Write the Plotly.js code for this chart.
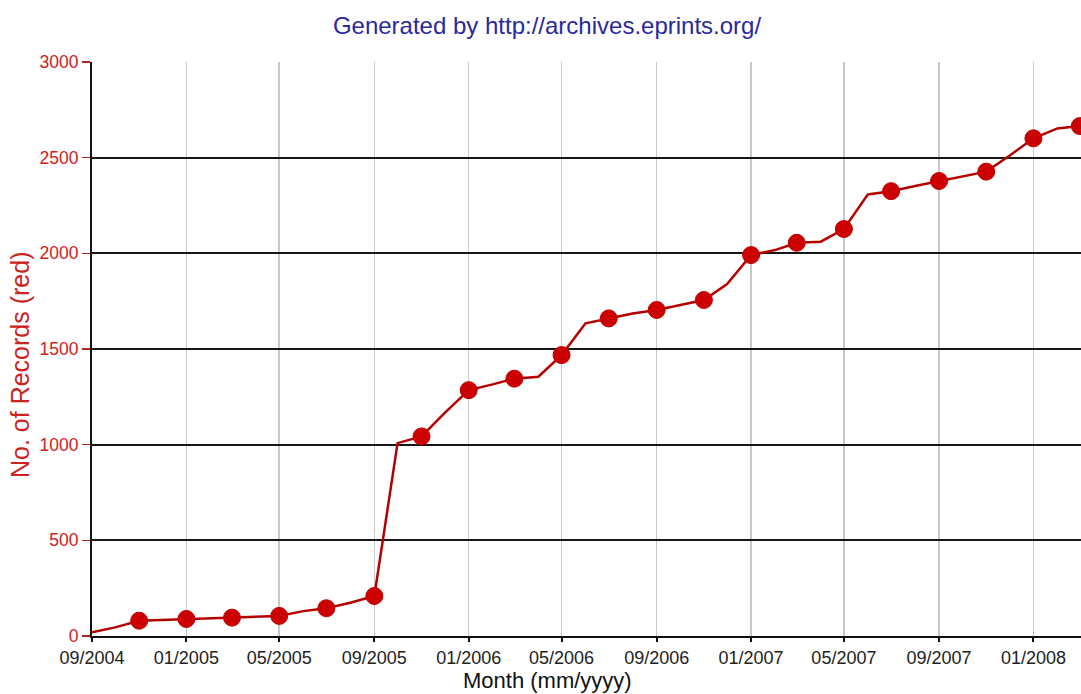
<!DOCTYPE html>
<html>
<head>
<meta charset="utf-8">
<script src="https://cdn.plot.ly/plotly-3.0.1.min.js"></script>
<style>
  html, body { margin: 0; padding: 0; background: #ffffff; }
  #chart { width: 1081px; height: 694px; }
</style>
</head>
<body>
<div id="chart"></div>
<script>
// Monthly cumulative record counts (first of each month)
const months = [
  '2004-09-01','2004-10-01','2004-11-01','2004-12-01',
  '2005-01-01','2005-02-01','2005-03-01','2005-04-01','2005-05-01','2005-06-01',
  '2005-07-01','2005-08-01','2005-09-01','2005-10-01','2005-11-01','2005-12-01',
  '2006-01-01','2006-02-01','2006-03-01','2006-04-01','2006-05-01','2006-06-01',
  '2006-07-01','2006-08-01','2006-09-01','2006-10-01','2006-11-01','2006-12-01',
  '2007-01-01','2007-02-01','2007-03-01','2007-04-01','2007-05-01','2007-06-01',
  '2007-07-01','2007-08-01','2007-09-01','2007-10-01','2007-11-01','2007-12-01',
  '2008-01-01','2008-02-01','2008-03-01'
];
const records = [
  20, 45, 80, 84,
  89, 92, 96, 100, 105, 130,
  145, 174, 209, 1008, 1043, 1166,
  1285, 1315, 1345, 1355, 1468, 1634,
  1660, 1686, 1704, 1730, 1756, 1840,
  1991, 2017, 2055, 2061, 2127, 2308,
  2325, 2352, 2378, 2400, 2427, 2510,
  2601, 2653, 2665
];
// Tick positions and labels
const xTickVals = ['2004-09-01','2005-01-01','2005-05-01','2005-09-01','2006-01-01','2006-05-01',
                   '2006-09-01','2007-01-01','2007-05-01','2007-09-01','2008-01-01'];
const xTickText = ['09/2004','01/2005','05/2005','09/2005','01/2006','05/2006',
                   '09/2006','01/2007','05/2007','09/2007','01/2008'];
const yTickVals = [0, 500, 1000, 1500, 2000, 2500, 3000];

const titleText = 'Generated by http://archives.eprints.org/';
const xTitleText = 'Month (mm/yyyy)';
const yTitleText = 'No. of Records (red)';

// Markers shown every second month (starting 11/2004)
const markerMonths = months.filter((m, i) => i > 0 && i % 2 === 0);
const markerRecords = records.filter((v, i) => i > 0 && i % 2 === 0);

const FONT = '"Liberation Sans", Arial, Helvetica, sans-serif';

const traces = [
  {
    x: months, y: records, type: 'scatter', mode: 'lines',
    line: { color: '#b50000', width: 2.5 },
    hoverinfo: 'skip', showlegend: false
  },
  {
    x: markerMonths, y: markerRecords, type: 'scatter', mode: 'markers',
    marker: { color: '#cc0000', size: 17, symbol: 'circle',
              line: { color: '#c00000', width: 1 } },
    showlegend: false
  }
];

const layout = {
  width: 1081, height: 694,
  margin: { l: 92, r: 0, t: 62, b: 58 },
  paper_bgcolor: '#ffffff', plot_bgcolor: '#ffffff',
  font: { family: FONT },
  title: {
    text: titleText,
    font: { family: FONT, size: 24, color: '#2a2aa0' },
    x: 547 / 1081, xanchor: 'center', xref: 'container',
    y: 1 - 26 / 694, yanchor: 'middle', yref: 'container'
  },
  xaxis: {
    type: 'date',
    range: ['2004-09-01', '2008-03-02 12:00'],
    tickmode: 'array', tickvals: xTickVals, ticktext: xTickText,
    tickfont: { family: FONT, size: 18, color: '#222222' },
    ticks: 'outside', ticklen: 4, tickwidth: 2, tickcolor: '#111111',
    showgrid: true, gridcolor: '#c8c8c8', gridwidth: 1.5,
    showline: true, linecolor: '#111111', linewidth: 2,
    zeroline: false, fixedrange: true
  },
  yaxis: {
    range: [0, 3000],
    tickmode: 'array', tickvals: yTickVals,
    tickfont: { family: FONT, size: 17.5, color: '#cc2222' },
    ticks: 'outside', ticklen: 8, tickwidth: 1.5, tickcolor: '#b52222',
    showgrid: true, gridcolor: '#161616', gridwidth: 2,
    showline: true, linecolor: '#111111', linewidth: 2,
    zeroline: false, fixedrange: true
  },
  annotations: [
    {
      text: xTitleText, showarrow: false,
      xref: 'paper', yref: 'paper',
      x: (547 - 92) / 989, y: (636 - 680) / 574,
      xanchor: 'center', yanchor: 'middle',
      font: { family: FONT, size: 22, color: '#111111' }
    },
    {
      text: yTitleText, showarrow: false, textangle: -90,
      xref: 'paper', yref: 'paper',
      x: (20 - 92) / 989, y: (636 - 365) / 574,
      xanchor: 'center', yanchor: 'middle',
      font: { family: FONT, size: 25, color: '#cc2222' }
    }
  ],
  showlegend: false
};

Plotly.newPlot('chart', traces, layout, { displayModeBar: false, staticPlot: true });
</script>
</body>
</html>
